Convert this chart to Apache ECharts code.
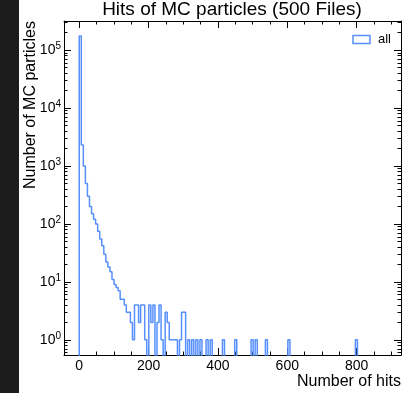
<!DOCTYPE html>
<html><head><meta charset="utf-8">
<script src="https://cdn.jsdelivr.net/npm/echarts@6/dist/echarts.min.js"></script>
<style>html,body{margin:0;padding:0;background:#fff}#c{width:404px;height:393px}</style>
</head><body><div id="c"></div>
<script>
// ---- data ----
const titleText = 'Hits of MC particles (500 Files)';
const xName = 'Number of hits';
const yName = 'Number of MC particles';
const seriesName = 'all';
const binStart = 0;
const binWidth = 5.9;
const counts = [
  175000, 2300, 1000, 500, 300, 200, 150, 120, 100, 75,
  55, 42, 30, 22, 18, 15, 11, 9, 8, 7,
  5, 5, 4, 3, 3, 2, 1, 4, 4, 2,
  4, 4, 1, 0, 4, 2, 4, 0, 2, 4,
  1, 0, 3, 2, 1, 1, 1, 1, 0, 1,
  3, 3, 0, 1, 0, 1, 0, 1, 0, 1,
  0, 0, 1, 0, 1, 0, 0, 0, 0, 0,
  1, 0, 0, 0, 0, 0, 1, 0, 0, 0,
  0, 0, 0, 0, 1, 0, 1, 0, 0, 0,
  0, 1, 0, 0, 0, 0, 0, 0, 0, 0,
  0, 0, 1, 0, 0, 0, 0, 0, 0, 0,
  0, 0, 0, 0, 0, 0, 0, 0, 0, 0,
  0, 0, 0, 0, 0, 0, 0, 0, 0, 0,
  0, 0, 0, 0, 0, 1, 0, 0, 0, 0,
  0, 0, 0, 0, 0, 0, 0, 0, 0, 0
];
const xMajorTicks = [0, 200, 400, 600, 800];
const xMinorTicks = [50, 100, 150, 250, 300, 350, 450, 500, 550, 650, 700, 750, 850, 900];
const yMajorTicks = [1, 10, 100, 1000, 10000, 100000];
const yMinorTicks = [0.6, 0.7, 0.8, 0.9, 2, 3, 4, 5, 6, 7, 8, 9, 20, 30, 40, 50, 60, 70, 80, 90,
  200, 300, 400, 500, 600, 700, 800, 900, 2000, 3000, 4000, 5000, 6000, 7000, 8000, 9000,
  20000, 30000, 40000, 50000, 60000, 70000, 80000, 90000, 200000, 300000];

// ---- layout / style ----
const X_MIN = -44, X_MAX = 928;
const Y_MIN = 0.547, Y_MAX = 3.18e5;
const FONT = '"Liberation Sans", Arial, Helvetica, sans-serif';
const COLOR = '#5790fc';

const floorVal = Y_MIN / 100; // empty bins drop below the axis (clipped), like a step hist on log scale
const pts = [[binStart, floorVal]];
counts.forEach((c, i) => pts.push([binStart + i * binWidth, c > 0 ? c : floorVal]));
const lastC = counts[counts.length - 1];
pts.push([binStart + counts.length * binWidth, lastC > 0 ? lastC : floorVal]);
pts.push([binStart + counts.length * binWidth, floorVal]);

function xAx(pos, ticks, len, showLine, showLabel) {
  return {
    type: 'value', min: X_MIN, max: X_MAX, position: pos,
    axisLine: { show: showLine, onZero: false, lineStyle: { color: '#000', width: 1 } },
    axisTick: { show: true, inside: true, length: len, customValues: ticks, lineStyle: { color: '#000', width: 1 } },
    axisLabel: showLabel ? { show: true, customValues: ticks, fontSize: 14, color: '#000', margin: 4, fontFamily: FONT } : { show: false },
    splitLine: { show: false }
  };
}
function yAx(pos, ticks, len, showLine, showLabel) {
  return {
    type: 'log', logBase: 10, min: Y_MIN, max: Y_MAX, position: pos,
    axisLine: { show: showLine, onZero: false, lineStyle: { color: '#000', width: 1 } },
    axisTick: { show: true, inside: true, length: len, customValues: ticks, lineStyle: { color: '#000', width: 1 } },
    axisLabel: showLabel ? {
      show: true, customValues: ticks, margin: 3, color: '#000', fontSize: 14, fontFamily: FONT,
      formatter: v => '10{s|' + Math.round(Math.log10(v)) + '}',
      rich: { s: { fontSize: 10, fontFamily: FONT, color: '#000', padding: [0, 0, 8, 0] } }
    } : { show: false },
    splitLine: { show: false }
  };
}

const chart = echarts.init(document.getElementById('c'), null, { renderer: 'canvas' });
chart.setOption({
  animation: false,
  backgroundColor: '#ffffff',
  textStyle: { fontFamily: FONT },
  title: {
    text: titleText, left: 232, top: 0, textAlign: 'center', padding: 0,
    textStyle: { fontSize: 19, fontWeight: 'normal', color: '#000', fontFamily: FONT }
  },
  grid: { left: 64, right: 3, top: 21, bottom: 38, containLabel: false },
  legend: {
    right: 8, top: 28, orient: 'vertical', itemWidth: 17, itemHeight: 8,
    data: [{ name: seriesName, icon: 'rect' }],
    itemStyle: { color: '#ffffff', borderColor: COLOR, borderWidth: 1.5 },
    textStyle: { fontSize: 13, color: '#000', fontFamily: FONT, padding: [0, 0, 0, 3] }
  },
  xAxis: [
    xAx('bottom', xMajorTicks, 7, true, true),
    xAx('bottom', xMinorTicks, 3.5, false, false),
    xAx('top', xMajorTicks, 7, true, false),
    xAx('top', xMinorTicks, 3.5, false, false)
  ],
  yAxis: [
    yAx('left', yMajorTicks, 7, true, true),
    yAx('left', yMinorTicks, 3.5, false, false),
    yAx('right', yMajorTicks, 7, true, false),
    yAx('right', yMinorTicks, 3.5, false, false)
  ],
  graphic: [
    { type: 'rect', left: 0, top: 0, shape: { width: 19, height: 393 }, style: { fill: '#1c1c1c' }, z: -10 },
    { type: 'text', x: 31, y: 21, rotation: Math.PI / 2,
      style: { text: yName, fontSize: 16, fontFamily: FONT, fill: '#000', textAlign: 'right', textVerticalAlign: 'middle' } },
    { type: 'text', x: 401, y: 382,
      style: { text: xName, fontSize: 16, fontFamily: FONT, fill: '#000', textAlign: 'right', textVerticalAlign: 'middle' } }
  ],
  series: [{
    name: seriesName, type: 'line', step: 'end', data: pts,
    xAxisIndex: 0, yAxisIndex: 0, showSymbol: false, symbol: 'none', clip: true,
    lineStyle: { color: COLOR, width: 1.5 }, itemStyle: { color: COLOR }
  }]
});
</script></body></html>
